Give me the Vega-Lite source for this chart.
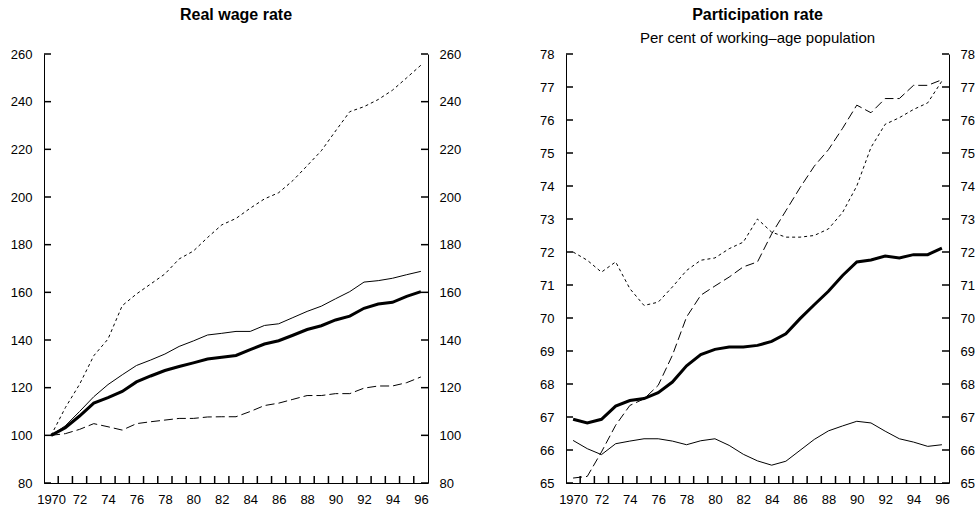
{
  "$schema": "https://vega.github.io/schema/vega-lite/v6.json",
  "background": "white",
  "padding": {"left": 10, "top": 7, "right": 5, "bottom": 0},
  "bounds": "flush",
  "spacing": 138,
  "config": {
    "font": "Liberation Sans",
    "view": {"stroke": null},
    "axis": {
      "labelFont": "Liberation Sans",
      "labelFontSize": 13,
      "labelColor": "black",
      "domainColor": "black",
      "domainWidth": 1,
      "ticks": false,
      "tickSize": 0,
      "grid": false,
      "title": null
    },
    "title": {
      "font": "Liberation Sans",
      "fontSize": 16,
      "fontWeight": "bold",
      "color": "black",
      "subtitleFont": "Liberation Sans",
      "subtitleFontSize": 15,
      "subtitleColor": "black",
      "subtitlePadding": 8,
      "anchor": "middle",
      "offset": 2
    }
  },
  "datasets": {
    "xticks": [{"year":1970.5},{"year":1971.5},{"year":1972.5},{"year":1973.5},{"year":1974.5},{"year":1975.5},{"year":1976.5},{"year":1977.5},{"year":1978.5},{"year":1979.5},{"year":1980.5},{"year":1981.5},{"year":1982.5},{"year":1983.5},{"year":1984.5},{"year":1985.5},{"year":1986.5},{"year":1987.5},{"year":1988.5},{"year":1989.5},{"year":1990.5},{"year":1991.5},{"year":1992.5},{"year":1993.5},{"year":1994.5},{"year":1995.5}],
    "wageticks": [{"value":80},{"value":100},{"value":120},{"value":140},{"value":160},{"value":180},{"value":200},{"value":220},{"value":240},{"value":260}],
    "partticks": [{"value":65},{"value":66},{"value":67},{"value":68},{"value":69},{"value":70},{"value":71},{"value":72},{"value":73},{"value":74},{"value":75},{"value":76},{"value":77},{"value":78}],
    "wage": [
      {"year":1970,"series":"Series 1","value":100},{"year":1971,"series":"Series 1","value":103.2},{"year":1972,"series":"Series 1","value":108.1},{"year":1973,"series":"Series 1","value":113.5},{"year":1974,"series":"Series 1","value":115.8},{"year":1975,"series":"Series 1","value":118.4},{"year":1976,"series":"Series 1","value":122.4},{"year":1977,"series":"Series 1","value":124.9},{"year":1978,"series":"Series 1","value":127.2},{"year":1979,"series":"Series 1","value":128.9},{"year":1980,"series":"Series 1","value":130.4},{"year":1981,"series":"Series 1","value":132.0},{"year":1982,"series":"Series 1","value":132.8},{"year":1983,"series":"Series 1","value":133.5},{"year":1984,"series":"Series 1","value":136.0},{"year":1985,"series":"Series 1","value":138.3},{"year":1986,"series":"Series 1","value":139.7},{"year":1987,"series":"Series 1","value":142.0},{"year":1988,"series":"Series 1","value":144.4},{"year":1989,"series":"Series 1","value":146.0},{"year":1990,"series":"Series 1","value":148.4},{"year":1991,"series":"Series 1","value":150.0},{"year":1992,"series":"Series 1","value":153.3},{"year":1993,"series":"Series 1","value":155.1},{"year":1994,"series":"Series 1","value":155.8},{"year":1995,"series":"Series 1","value":158.3},{"year":1996,"series":"Series 1","value":160.3},
      {"year":1970,"series":"Series 2","value":100},{"year":1971,"series":"Series 2","value":104},{"year":1972,"series":"Series 2","value":110},{"year":1973,"series":"Series 2","value":116.2},{"year":1974,"series":"Series 2","value":121.3},{"year":1975,"series":"Series 2","value":125.4},{"year":1976,"series":"Series 2","value":129.3},{"year":1977,"series":"Series 2","value":131.6},{"year":1978,"series":"Series 2","value":134.1},{"year":1979,"series":"Series 2","value":137.3},{"year":1980,"series":"Series 2","value":139.6},{"year":1981,"series":"Series 2","value":142.1},{"year":1982,"series":"Series 2","value":142.8},{"year":1983,"series":"Series 2","value":143.6},{"year":1984,"series":"Series 2","value":143.6},{"year":1985,"series":"Series 2","value":146.1},{"year":1986,"series":"Series 2","value":146.8},{"year":1987,"series":"Series 2","value":149.4},{"year":1988,"series":"Series 2","value":152.0},{"year":1989,"series":"Series 2","value":154.2},{"year":1990,"series":"Series 2","value":157.3},{"year":1991,"series":"Series 2","value":160.3},{"year":1992,"series":"Series 2","value":164.3},{"year":1993,"series":"Series 2","value":164.9},{"year":1994,"series":"Series 2","value":165.9},{"year":1995,"series":"Series 2","value":167.4},{"year":1996,"series":"Series 2","value":168.8},
      {"year":1970,"series":"Series 3","value":100},{"year":1971,"series":"Series 3","value":111.6},{"year":1972,"series":"Series 3","value":121.4},{"year":1973,"series":"Series 3","value":133.4},{"year":1974,"series":"Series 3","value":140.4},{"year":1975,"series":"Series 3","value":154.4},{"year":1976,"series":"Series 3","value":159.3},{"year":1977,"series":"Series 3","value":163.5},{"year":1978,"series":"Series 3","value":167.7},{"year":1979,"series":"Series 3","value":174.0},{"year":1980,"series":"Series 3","value":177.3},{"year":1981,"series":"Series 3","value":183.0},{"year":1982,"series":"Series 3","value":188.3},{"year":1983,"series":"Series 3","value":191.0},{"year":1984,"series":"Series 3","value":195.3},{"year":1985,"series":"Series 3","value":199.2},{"year":1986,"series":"Series 3","value":201.8},{"year":1987,"series":"Series 3","value":206.9},{"year":1988,"series":"Series 3","value":213.1},{"year":1989,"series":"Series 3","value":219.4},{"year":1990,"series":"Series 3","value":227.7},{"year":1991,"series":"Series 3","value":235.8},{"year":1992,"series":"Series 3","value":237.9},{"year":1993,"series":"Series 3","value":240.9},{"year":1994,"series":"Series 3","value":244.8},{"year":1995,"series":"Series 3","value":250.0},{"year":1996,"series":"Series 3","value":255.3},
      {"year":1970,"series":"Series 4","value":100},{"year":1971,"series":"Series 4","value":100.7},{"year":1972,"series":"Series 4","value":102.5},{"year":1973,"series":"Series 4","value":104.9},{"year":1974,"series":"Series 4","value":103.6},{"year":1975,"series":"Series 4","value":102.2},{"year":1976,"series":"Series 4","value":104.9},{"year":1977,"series":"Series 4","value":105.7},{"year":1978,"series":"Series 4","value":106.4},{"year":1979,"series":"Series 4","value":107.1},{"year":1980,"series":"Series 4","value":107.1},{"year":1981,"series":"Series 4","value":107.7},{"year":1982,"series":"Series 4","value":107.8},{"year":1983,"series":"Series 4","value":107.8},{"year":1984,"series":"Series 4","value":110.0},{"year":1985,"series":"Series 4","value":112.5},{"year":1986,"series":"Series 4","value":113.5},{"year":1987,"series":"Series 4","value":115.1},{"year":1988,"series":"Series 4","value":116.7},{"year":1989,"series":"Series 4","value":116.7},{"year":1990,"series":"Series 4","value":117.5},{"year":1991,"series":"Series 4","value":117.5},{"year":1992,"series":"Series 4","value":119.8},{"year":1993,"series":"Series 4","value":120.7},{"year":1994,"series":"Series 4","value":120.7},{"year":1995,"series":"Series 4","value":122.1},{"year":1996,"series":"Series 4","value":124.5}
    ],
    "part": [
      {"year":1970,"series":"Series 1","value":66.93},{"year":1971,"series":"Series 1","value":66.82},{"year":1972,"series":"Series 1","value":66.93},{"year":1973,"series":"Series 1","value":67.33},{"year":1974,"series":"Series 1","value":67.5},{"year":1975,"series":"Series 1","value":67.56},{"year":1976,"series":"Series 1","value":67.74},{"year":1977,"series":"Series 1","value":68.06},{"year":1978,"series":"Series 1","value":68.55},{"year":1979,"series":"Series 1","value":68.89},{"year":1980,"series":"Series 1","value":69.05},{"year":1981,"series":"Series 1","value":69.12},{"year":1982,"series":"Series 1","value":69.12},{"year":1983,"series":"Series 1","value":69.17},{"year":1984,"series":"Series 1","value":69.29},{"year":1985,"series":"Series 1","value":69.52},{"year":1986,"series":"Series 1","value":69.98},{"year":1987,"series":"Series 1","value":70.4},{"year":1988,"series":"Series 1","value":70.81},{"year":1989,"series":"Series 1","value":71.29},{"year":1990,"series":"Series 1","value":71.7},{"year":1991,"series":"Series 1","value":71.76},{"year":1992,"series":"Series 1","value":71.88},{"year":1993,"series":"Series 1","value":71.82},{"year":1994,"series":"Series 1","value":71.92},{"year":1995,"series":"Series 1","value":71.92},{"year":1996,"series":"Series 1","value":72.12},
      {"year":1970,"series":"Series 2","value":66.29},{"year":1971,"series":"Series 2","value":66.04},{"year":1972,"series":"Series 2","value":65.86},{"year":1973,"series":"Series 2","value":66.19},{"year":1974,"series":"Series 2","value":66.27},{"year":1975,"series":"Series 2","value":66.34},{"year":1976,"series":"Series 2","value":66.34},{"year":1977,"series":"Series 2","value":66.27},{"year":1978,"series":"Series 2","value":66.16},{"year":1979,"series":"Series 2","value":66.28},{"year":1980,"series":"Series 2","value":66.34},{"year":1981,"series":"Series 2","value":66.14},{"year":1982,"series":"Series 2","value":65.87},{"year":1983,"series":"Series 2","value":65.67},{"year":1984,"series":"Series 2","value":65.54},{"year":1985,"series":"Series 2","value":65.66},{"year":1986,"series":"Series 2","value":65.99},{"year":1987,"series":"Series 2","value":66.32},{"year":1988,"series":"Series 2","value":66.58},{"year":1989,"series":"Series 2","value":66.73},{"year":1990,"series":"Series 2","value":66.87},{"year":1991,"series":"Series 2","value":66.82},{"year":1992,"series":"Series 2","value":66.57},{"year":1993,"series":"Series 2","value":66.34},{"year":1994,"series":"Series 2","value":66.24},{"year":1995,"series":"Series 2","value":66.11},{"year":1996,"series":"Series 2","value":66.16},
      {"year":1970,"series":"Series 3","value":72.0},{"year":1971,"series":"Series 3","value":71.75},{"year":1972,"series":"Series 3","value":71.39},{"year":1973,"series":"Series 3","value":71.7},{"year":1974,"series":"Series 3","value":70.89},{"year":1975,"series":"Series 3","value":70.38},{"year":1976,"series":"Series 3","value":70.48},{"year":1977,"series":"Series 3","value":70.94},{"year":1978,"series":"Series 3","value":71.44},{"year":1979,"series":"Series 3","value":71.75},{"year":1980,"series":"Series 3","value":71.82},{"year":1981,"series":"Series 3","value":72.1},{"year":1982,"series":"Series 3","value":72.3},{"year":1983,"series":"Series 3","value":73.0},{"year":1984,"series":"Series 3","value":72.6},{"year":1985,"series":"Series 3","value":72.45},{"year":1986,"series":"Series 3","value":72.45},{"year":1987,"series":"Series 3","value":72.5},{"year":1988,"series":"Series 3","value":72.7},{"year":1989,"series":"Series 3","value":73.2},{"year":1990,"series":"Series 3","value":74.0},{"year":1991,"series":"Series 3","value":75.17},{"year":1992,"series":"Series 3","value":75.87},{"year":1993,"series":"Series 3","value":76.07},{"year":1994,"series":"Series 3","value":76.32},{"year":1995,"series":"Series 3","value":76.52},{"year":1996,"series":"Series 3","value":77.18},
      {"year":1970,"series":"Series 4","value":65.15},{"year":1971,"series":"Series 4","value":65.2},{"year":1972,"series":"Series 4","value":65.94},{"year":1973,"series":"Series 4","value":66.75},{"year":1974,"series":"Series 4","value":67.35},{"year":1975,"series":"Series 4","value":67.55},{"year":1976,"series":"Series 4","value":67.96},{"year":1977,"series":"Series 4","value":68.87},{"year":1978,"series":"Series 4","value":70.03},{"year":1979,"series":"Series 4","value":70.69},{"year":1980,"series":"Series 4","value":70.97},{"year":1981,"series":"Series 4","value":71.24},{"year":1982,"series":"Series 4","value":71.55},{"year":1983,"series":"Series 4","value":71.7},{"year":1984,"series":"Series 4","value":72.55},{"year":1985,"series":"Series 4","value":73.25},{"year":1986,"series":"Series 4","value":73.95},{"year":1987,"series":"Series 4","value":74.6},{"year":1988,"series":"Series 4","value":75.1},{"year":1989,"series":"Series 4","value":75.75},{"year":1990,"series":"Series 4","value":76.45},{"year":1991,"series":"Series 4","value":76.22},{"year":1992,"series":"Series 4","value":76.65},{"year":1993,"series":"Series 4","value":76.65},{"year":1994,"series":"Series 4","value":77.05},{"year":1995,"series":"Series 4","value":77.05},{"year":1996,"series":"Series 4","value":77.22}
    ]
  },
  "hconcat": [
    {
      "width": 384,
      "height": 429,
      "title": {"text": "Real wage rate", "subtitle": " "},
      "data": {"name": "wage"},
      "layer": [
        {
          "transform": [{"filter": "datum.series === 'Series 1'"}],
          "mark": {"type": "line", "color": "black", "strokeWidth": 3},
          "encoding": {
            "x": {"field": "year", "type": "quantitative",
              "scale": {"domain": [1969.5, 1996.5], "nice": false, "zero": false},
              "axis": {"orient": "bottom", "domain": true,
                "values": [1970,1972,1974,1976,1978,1980,1982,1984,1986,1988,1990,1992,1994,1996],
                "labelExpr": "datum.value == 1970 ? '1970' : substring(toString(datum.value), 2)",
                "labelFlush": false, "labelOverlap": false, "labelBound": false, "labelPadding": 10}},
            "y": {"field": "value", "type": "quantitative",
              "scale": {"domain": [80, 260], "nice": false, "zero": false},
              "axis": {"orient": "left", "domain": true,
                "values": [80,100,120,140,160,180,200,220,240,260], "labelPadding": 12}}
          }
        },
        {
          "transform": [{"filter": "datum.series === 'Series 2'"}],
          "mark": {"type": "line", "color": "black", "strokeWidth": 1},
          "encoding": {
            "x": {"field": "year", "type": "quantitative",
              "scale": {"domain": [1969.5, 1996.5], "nice": false, "zero": false}, "axis": null},
            "y": {"field": "value", "type": "quantitative",
              "scale": {"domain": [80, 260], "nice": false, "zero": false},
              "axis": {"orient": "right", "domain": true,
                "values": [80,100,120,140,160,180,200,220,240,260], "labelPadding": 11}}
          }
        },
        {
          "transform": [{"filter": "datum.series === 'Series 3'"}],
          "mark": {"type": "line", "color": "black", "strokeWidth": 1, "strokeDash": [3, 3]},
          "encoding": {
            "x": {"field": "year", "type": "quantitative",
              "scale": {"domain": [1969.5, 1996.5], "nice": false, "zero": false}, "axis": null},
            "y": {"field": "value", "type": "quantitative",
              "scale": {"domain": [80, 260], "nice": false, "zero": false}, "axis": null}
          }
        },
        {
          "transform": [{"filter": "datum.series === 'Series 4'"}],
          "mark": {"type": "line", "color": "black", "strokeWidth": 1, "strokeDash": [9, 4]},
          "encoding": {
            "x": {"field": "year", "type": "quantitative",
              "scale": {"domain": [1969.5, 1996.5], "nice": false, "zero": false}, "axis": null},
            "y": {"field": "value", "type": "quantitative",
              "scale": {"domain": [80, 260], "nice": false, "zero": false}, "axis": null}
          }
        },
        {
          "data": {"name": "xticks"},
          "mark": {"type": "tick", "orient": "vertical", "color": "black", "thickness": 1.5, "size": 7, "yOffset": -3.5, "opacity": 1},
          "encoding": {
            "x": {"field": "year", "type": "quantitative",
              "scale": {"domain": [1969.5, 1996.5], "nice": false, "zero": false}, "axis": null},
            "y": {"datum": 80, "type": "quantitative",
              "scale": {"domain": [80, 260], "nice": false, "zero": false}, "axis": null}
          }
        },
        {
          "data": {"name": "wageticks"},
          "mark": {"type": "tick", "orient": "horizontal", "color": "black", "thickness": 1.5, "size": 7, "xOffset": 3.5, "opacity": 1},
          "encoding": {
            "x": {"datum": 1969.5, "type": "quantitative",
              "scale": {"domain": [1969.5, 1996.5], "nice": false, "zero": false}, "axis": null},
            "y": {"field": "value", "type": "quantitative",
              "scale": {"domain": [80, 260], "nice": false, "zero": false}, "axis": null}
          }
        },
        {
          "data": {"name": "wageticks"},
          "mark": {"type": "tick", "orient": "horizontal", "color": "black", "thickness": 1.5, "size": 7, "xOffset": -3.5, "opacity": 1},
          "encoding": {
            "x": {"datum": 1996.5, "type": "quantitative",
              "scale": {"domain": [1969.5, 1996.5], "nice": false, "zero": false}, "axis": null},
            "y": {"field": "value", "type": "quantitative",
              "scale": {"domain": [80, 260], "nice": false, "zero": false}, "axis": null}
          }
        }
      ],
      "resolve": {"axis": {"x": "independent", "y": "independent"}}
    },
    {
      "width": 383,
      "height": 429,
      "title": {"text": "Participation rate", "subtitle": "Per cent of working–age population"},
      "data": {"name": "part"},
      "layer": [
        {
          "transform": [{"filter": "datum.series === 'Series 1'"}],
          "mark": {"type": "line", "color": "black", "strokeWidth": 3},
          "encoding": {
            "x": {"field": "year", "type": "quantitative",
              "scale": {"domain": [1969.5, 1996.5], "nice": false, "zero": false},
              "axis": {"orient": "bottom", "domain": true,
                "values": [1970,1972,1974,1976,1978,1980,1982,1984,1986,1988,1990,1992,1994,1996],
                "labelExpr": "datum.value == 1970 ? '1970' : substring(toString(datum.value), 2)",
                "labelFlush": false, "labelOverlap": false, "labelBound": false, "labelPadding": 10}},
            "y": {"field": "value", "type": "quantitative",
              "scale": {"domain": [65, 78], "nice": false, "zero": false},
              "axis": {"orient": "left", "domain": true,
                "values": [65,66,67,68,69,70,71,72,73,74,75,76,77,78], "labelPadding": 12}}
          }
        },
        {
          "transform": [{"filter": "datum.series === 'Series 2'"}],
          "mark": {"type": "line", "color": "black", "strokeWidth": 1},
          "encoding": {
            "x": {"field": "year", "type": "quantitative",
              "scale": {"domain": [1969.5, 1996.5], "nice": false, "zero": false}, "axis": null},
            "y": {"field": "value", "type": "quantitative",
              "scale": {"domain": [65, 78], "nice": false, "zero": false},
              "axis": {"orient": "right", "domain": true,
                "values": [65,66,67,68,69,70,71,72,73,74,75,76,77,78], "labelPadding": 11}}
          }
        },
        {
          "transform": [{"filter": "datum.series === 'Series 3'"}],
          "mark": {"type": "line", "color": "black", "strokeWidth": 1, "strokeDash": [3, 3]},
          "encoding": {
            "x": {"field": "year", "type": "quantitative",
              "scale": {"domain": [1969.5, 1996.5], "nice": false, "zero": false}, "axis": null},
            "y": {"field": "value", "type": "quantitative",
              "scale": {"domain": [65, 78], "nice": false, "zero": false}, "axis": null}
          }
        },
        {
          "transform": [{"filter": "datum.series === 'Series 4'"}],
          "mark": {"type": "line", "color": "black", "strokeWidth": 1, "strokeDash": [9, 4]},
          "encoding": {
            "x": {"field": "year", "type": "quantitative",
              "scale": {"domain": [1969.5, 1996.5], "nice": false, "zero": false}, "axis": null},
            "y": {"field": "value", "type": "quantitative",
              "scale": {"domain": [65, 78], "nice": false, "zero": false}, "axis": null}
          }
        },
        {
          "data": {"name": "xticks"},
          "mark": {"type": "tick", "orient": "vertical", "color": "black", "thickness": 1.5, "size": 7, "yOffset": -3.5, "opacity": 1},
          "encoding": {
            "x": {"field": "year", "type": "quantitative",
              "scale": {"domain": [1969.5, 1996.5], "nice": false, "zero": false}, "axis": null},
            "y": {"datum": 65, "type": "quantitative",
              "scale": {"domain": [65, 78], "nice": false, "zero": false}, "axis": null}
          }
        },
        {
          "data": {"name": "partticks"},
          "mark": {"type": "tick", "orient": "horizontal", "color": "black", "thickness": 1.5, "size": 7, "xOffset": 3.5, "opacity": 1},
          "encoding": {
            "x": {"datum": 1969.5, "type": "quantitative",
              "scale": {"domain": [1969.5, 1996.5], "nice": false, "zero": false}, "axis": null},
            "y": {"field": "value", "type": "quantitative",
              "scale": {"domain": [65, 78], "nice": false, "zero": false}, "axis": null}
          }
        },
        {
          "data": {"name": "partticks"},
          "mark": {"type": "tick", "orient": "horizontal", "color": "black", "thickness": 1.5, "size": 7, "xOffset": -3.5, "opacity": 1},
          "encoding": {
            "x": {"datum": 1996.5, "type": "quantitative",
              "scale": {"domain": [1969.5, 1996.5], "nice": false, "zero": false}, "axis": null},
            "y": {"field": "value", "type": "quantitative",
              "scale": {"domain": [65, 78], "nice": false, "zero": false}, "axis": null}
          }
        }
      ],
      "resolve": {"axis": {"x": "independent", "y": "independent"}}
    }
  ]
}
